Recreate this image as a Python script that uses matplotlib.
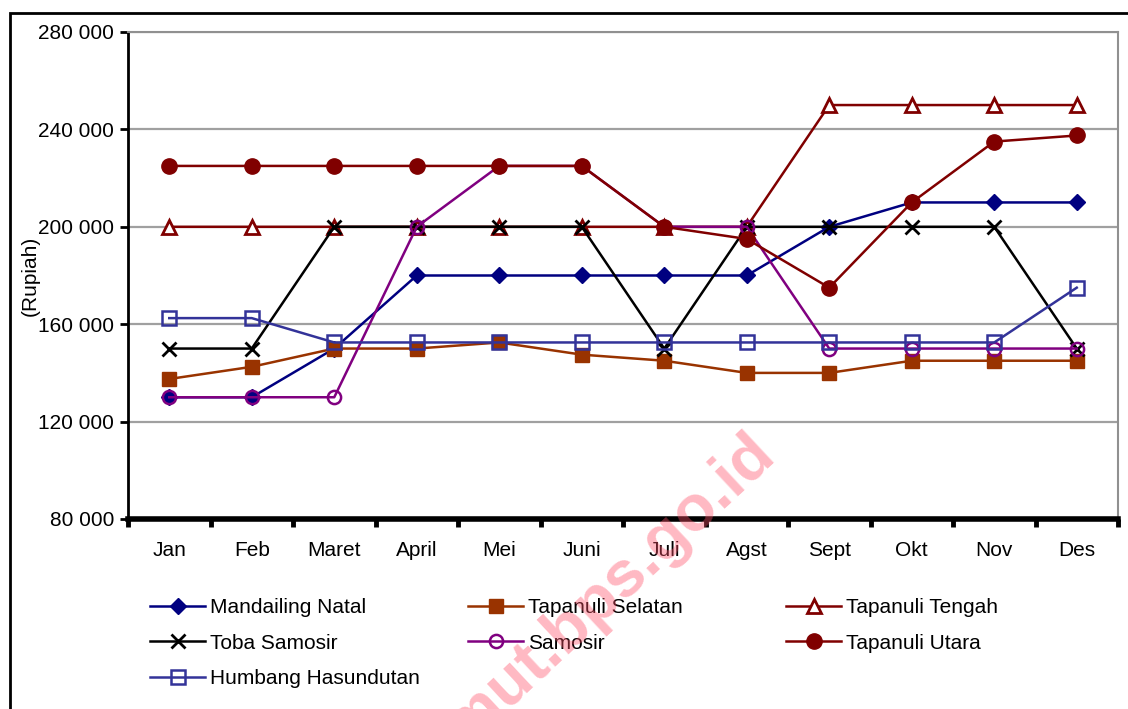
import matplotlib.pyplot as plt
from matplotlib.patches import Rectangle
from matplotlib import font_manager

months = ["Jan", "Feb", "Maret", "April", "Mei", "Juni", "Juli", "Agst", "Sept", "Okt", "Nov", "Des"]

mandailing = [130000, 130000, 150000, 180000, 180000, 180000, 180000, 180000, 200000, 210000, 210000, 210000]
tap_selatan = [137500, 142500, 150000, 150000, 152500, 147500, 145000, 140000, 140000, 145000, 145000, 145000]
tap_tengah = [200000, 200000, 200000, 200000, 200000, 200000, 200000, 200000, 250000, 250000, 250000, 250000]
toba = [150000, 150000, 200000, 200000, 200000, 200000, 150000, 200000, 200000, 200000, 200000, 150000]
samosir = [130000, 130000, 130000, 200000, 225000, 225000, 200000, 200000, 150000, 150000, 150000, 150000]
tap_utara = [225000, 225000, 225000, 225000, 225000, 225000, 200000, 195000, 175000, 210000, 235000, 237500]
humbang = [162500, 162500, 152500, 152500, 152500, 152500, 152500, 152500, 152500, 152500, 152500, 175000]

yticks = [80000, 120000, 160000, 200000, 240000, 280000]

# fonts: narrow one for the axes if there is one, normal one for the legend
names = {f.name for f in font_manager.fontManager.ttflist}
narrow = "Liberation Sans Narrow" if "Liberation Sans Narrow" in names else "Liberation Sans"
plain = "Liberation Sans"

fig = plt.figure(figsize=(11.28, 7.09), dpi=100)
ax = fig.add_axes([128/1128, 1-519/709, 990/1128, 487/709])

x = list(range(len(months)))
lw = 1.8
ms = 9.5
series = [
    ("Mandailing Natal", mandailing, dict(color="#000080", marker="D", ms=8, mfc="#000080")),
    ("Tapanuli Selatan", tap_selatan, dict(color="#993300", marker="s", ms=ms, mfc="#993300")),
    ("Tapanuli Tengah", tap_tengah, dict(color="#800000", marker="^", ms=ms, mfc="white", mew=2)),
    ("Toba Samosir", toba, dict(color="black", marker="x", ms=ms, mew=2)),
    ("Samosir", samosir, dict(color="#800080", marker="o", ms=ms, mfc="none", mew=1.8)),
    ("Tapanuli Utara", tap_utara, dict(color="#800000", marker="o", ms=11, mfc="#800000")),
    ("Humbang Hasundutan", humbang, dict(color="#333399", marker="s", ms=ms, mfc="none", mew=1.8)),
]
handles = []
for name, vals, st in series:
    h, = ax.plot(x, vals, lw=lw, label=name, clip_on=False, zorder=3, **st)
    handles.append(h)

ax.set_xlim(-0.5, 11.5)
ax.set_ylim(80000, 280000)
ax.set_yticks(yticks)
ax.set_yticklabels([f"{v//1000} 000" for v in yticks], fontsize=15, family=narrow)
ax.grid(axis="y", color="#a0a0a0", lw=1.6, zorder=1)

ax.set_xticks([i - 0.5 for i in range(13)])
ax.set_xticklabels([])
ax.set_xticks(x, minor=True)
ax.set_xticklabels(months, minor=True, fontsize=15, family=narrow)
ax.tick_params(axis="x", which="major", length=6, width=3.5, direction="out", color="black")
ax.tick_params(axis="x", which="minor", length=0, pad=16)
ax.tick_params(axis="y", length=6, width=2, direction="out", pad=4)

ax.spines["left"].set_linewidth(2)
ax.spines["bottom"].set_linewidth(4)
for s in ("top", "right"):
    ax.spines[s].set_color("#909090")
    ax.spines[s].set_linewidth(1.5)

ax.set_ylabel("(Rupiah)", fontsize=15, family=narrow)
ax.yaxis.set_label_coords(-0.089, 0.5)

# outer chart frame (runs off the right and bottom edge)
fig.patches.append(Rectangle((10/1128, -0.1), 1.2, 1-13/709+0.1, transform=fig.transFigure,
                             fill=False, ec="black", lw=2, zorder=0))

# legend in three fixed-width columns
cols = [[0, 3, 6], [1, 4], [2, 5]]
for k, idx in enumerate(cols):
    fig.legend([handles[i] for i in idx], [series[i][0] for i in idx],
               loc="upper left", bbox_to_anchor=((140 + k*318)/1128, 1-588/709),
               frameon=False, prop={"family": plain, "size": 15},
               handlelength=2.6, handletextpad=0.25, labelspacing=0.78, borderpad=0)

# watermark, cut by the bottom edge as in the source
fig.text(778/1128, 1-458/709, "sumut.bps.go.id", rotation=43, rotation_mode="anchor",
         ha="right", va="baseline", fontsize=47, weight="bold", family=plain,
         color="#ff5068", alpha=0.4, zorder=10)

fig.savefig("out.png", dpi=100)
